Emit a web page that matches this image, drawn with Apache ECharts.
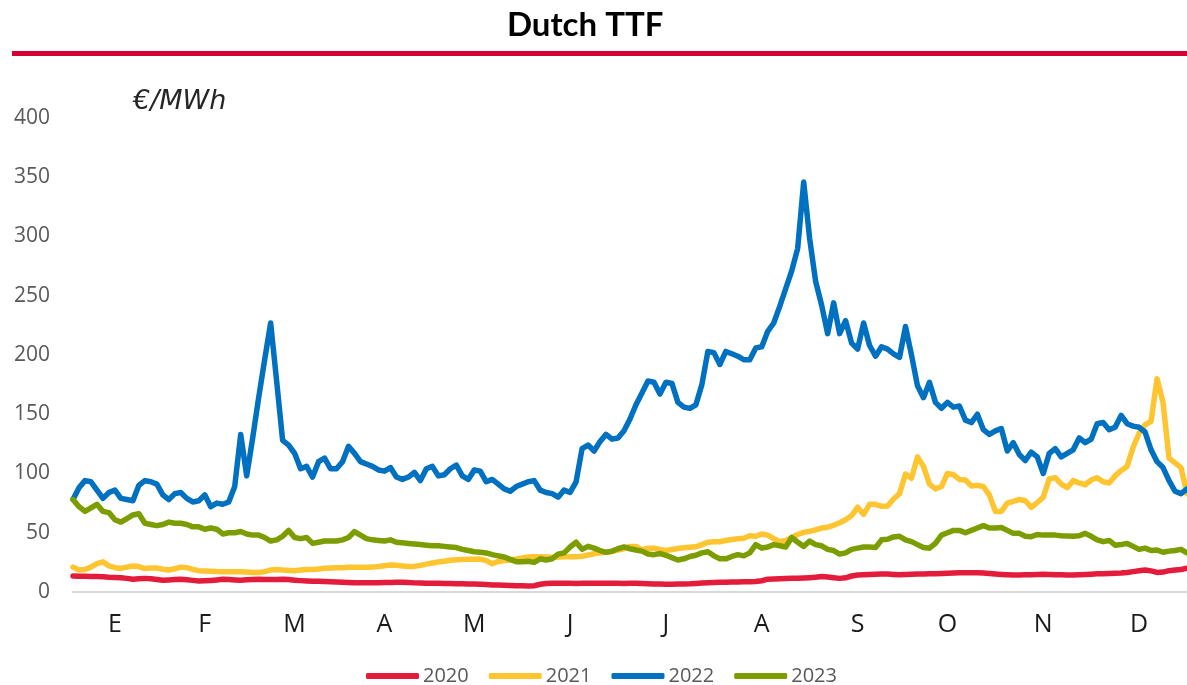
<!DOCTYPE html>
<html>
<head>
<meta charset="utf-8">
<script src="https://cdn.jsdelivr.net/npm/echarts@6/dist/echarts.min.js"></script>
<style>
  html, body { margin: 0; padding: 0; background: #fff; }
  #chart { width: 1187px; height: 685px; }
</style>
</head>
<body>
<div id="chart"></div>
<script>
// Month initials (Spanish) and how many price points fall in each month
const monthLetters = ['E', 'F', 'M', 'A', 'M', 'J', 'J', 'A', 'S', 'O', 'N', 'D'];
const pointsPerMonth = [15, 15, 15, 15, 15, 17, 15, 16, 16, 15, 16, 17];

const seriesNames = ['2020', '2021', '2022', '2023'];

// Dutch TTF front-month price, €/MWh
const ttf2020 = [
  13.5, 13.2, 13.2, 13, 13, 12.8, 12.4, 12.3, 12, 11.5, 10.8,
  11.2, 11.5, 11.2, 10.6, 10, 10.2, 10.5, 10.7, 10.3, 9.8,
  9.3, 9.5, 9.8, 10.2, 10.7, 10.5, 10.2, 10, 10.3, 10.6,
  10.7, 10.6, 10.5, 10.6, 10.7, 10.5, 10, 9.6, 9.3, 9.1,
  9, 8.8, 8.7, 8.5, 8.2, 8, 7.8, 7.8, 7.9, 7.8,
  7.9, 8, 8.1, 8.2, 8.2, 8, 7.7, 7.6, 7.4, 7.3,
  7.3, 7.2, 7.1, 7, 6.9, 6.8, 6.8, 6.6, 6.3, 6,
  5.9, 5.7, 5.5, 5.3, 5.2, 5, 5.3, 6.5, 7.2, 7.3,
  7.3, 7.3, 7.3, 7.2, 7.3, 7.3, 7.3, 7.3, 7.3, 7.3,
  7.3, 7.2, 7.3, 7.4, 7.2, 7, 6.8, 6.7, 6.5, 6.6,
  6.8, 6.8, 6.9, 7.2, 7.5, 7.8, 8, 8.2, 8.3, 8.4,
  8.5, 8.6, 8.7, 8.8, 9.5, 10.8, 11, 11.2, 11.3, 11.5,
  11.6, 11.8, 12.1, 12.5, 13, 12.6, 12, 11.5, 12, 13.5,
  14.3, 14.5, 14.8, 15, 15.2, 15.2, 14.8, 14.5, 14.8, 15,
  15.2, 15.2, 15.3, 15.5, 15.6, 15.8, 16, 16.2, 16.3, 16.3,
  16.2, 16, 15.6, 15.2, 14.8, 14.5, 14.3, 14.3, 14.5, 14.6,
  14.8, 15, 14.8, 14.6, 14.5, 14.3, 14.3, 14.5, 14.8, 15,
  15.3, 15.5, 15.6, 15.8, 16, 16.5, 17.2, 18, 18.6, 17.8,
  16.5, 16.8, 18, 18.6, 19, 20
];

const ttf2021 = [
  21, 18.5, 19, 21, 24, 25.5, 22, 20.5, 20, 21,
  22, 21.5, 19.8, 20.2, 20.2, 19.2, 18.6, 19.6, 21, 20.5,
  19, 18, 17.8, 17.5, 17.2, 17.1, 17.1, 17.1, 17.1, 16.8,
  16.5, 16.5, 17.2, 18.5, 19, 18.5, 18.2, 18, 18.5, 19,
  19, 19.5, 20, 20.2, 20.4, 20.5, 20.8, 20.8, 20.8, 20.8,
  21, 21.5, 22.2, 22.8, 22.5, 22, 21.6, 21.6, 22.5, 23.5,
  24.5, 25.4, 26, 26.8, 27.2, 27.5, 27.6, 27.7, 27.8, 26.5,
  23.8, 25.8, 26.6, 27, 27.8, 28.8, 29.5, 29.7, 29.8, 29.5,
  29.3, 29.5, 29.8, 29.8, 29.8, 30.2, 31.2, 32.3, 33, 33.5,
  34, 35.5, 36.5, 38.5, 38.5, 35.5, 37, 37, 36, 35,
  35.8, 36.7, 37.3, 37.7, 38.2, 40, 42, 42.4, 42.4, 43.4,
  44.3, 45, 45.4, 47.5, 47, 49, 48, 45, 42.4, 43.5,
  46, 48.5, 50.3, 51.2, 52.5, 54, 54.7, 56.3, 58.5, 61,
  64.5, 71.5, 65.5, 74, 74, 72.3, 72.5, 78.5, 83, 99.6,
  96, 114, 106, 91, 87, 89, 100, 99, 95, 94.5,
  89.5, 90, 89, 82, 68, 68, 75, 76.5, 78, 77,
  71.5, 75.5, 80, 95.5, 96.5, 91, 88, 94, 92, 90.5,
  94.5, 96.5, 93, 92, 98, 102.5, 106, 122, 134, 141,
  144, 180, 160, 113, 109, 105, 83
];

const ttf2022 = [
  78, 88, 94, 93, 86, 79, 84, 86, 79, 78,
  77, 90, 94, 93, 91, 82, 78, 83, 84, 79,
  76, 77, 82, 72, 75, 74, 76, 89, 133, 98,
  130, 164, 196, 227, 178, 128, 124, 117, 104, 106,
  97, 110, 113, 104, 104, 110, 123, 117, 110, 108,
  106, 103, 102, 105, 97, 95, 97, 101, 94, 104,
  106, 98, 99, 104, 107, 98, 95, 103, 102, 93,
  95, 91, 87, 85, 89, 91, 93, 94, 86, 84,
  83, 80, 86, 84, 93, 121, 124, 119, 127, 133,
  129, 130, 136, 146, 158, 168, 178, 177, 167, 177,
  176, 160, 156, 155, 158, 175, 203, 202, 192, 203,
  201, 199, 196, 196, 206, 207, 220, 227, 241, 256,
  271, 290, 346, 298, 262, 242, 218, 244, 218, 229,
  210, 205, 227, 208, 199, 207, 205, 201, 198, 224,
  200, 174, 164, 177, 160, 155, 160, 156, 157, 145,
  143, 150, 137, 133, 136, 138, 119, 126, 116, 111,
  118, 114, 100, 117, 121, 114, 117, 120, 130, 126,
  129, 142, 143, 137, 139, 149, 142, 140, 139, 135,
  120, 110, 105, 94, 85, 83, 87
];

const ttf2023 = [
  78, 72, 68, 71, 74, 68, 67, 61, 59, 62,
  65, 66, 58, 57, 56, 57, 59, 58, 58, 57,
  55, 55, 53, 54, 53, 49, 50, 50, 51, 49,
  48, 48, 46, 43, 44, 47, 52, 46, 45, 46,
  41, 42, 43, 43, 43, 44, 46, 51, 48, 45,
  44, 43.5, 43, 44, 42, 41.5, 41, 40.5, 40, 39.5,
  39, 39, 38.5, 38, 37.5, 36, 35, 34, 33.5, 33,
  31.5, 30.5, 29.5, 27.5, 25.6, 25.6, 26, 25, 28, 27,
  28, 32, 33, 38, 42, 36, 38.5, 37, 35, 33.5,
  34.5, 36.5, 38, 36.5, 35.5, 34.5, 32, 31.5, 32.5, 31,
  29, 27, 28, 30, 31, 33, 34, 30.5, 28, 28,
  30, 31.5, 30.5, 33, 40, 37, 38, 40, 39, 38,
  46, 42, 38.5, 43, 40, 39, 36, 35, 32, 33,
  36, 37, 38, 38, 37.5, 44, 44.5, 46.5, 47, 44,
  42.5, 40, 37.5, 37, 41, 48, 50, 52, 52, 50,
  52, 54, 56, 54, 54, 54.5, 52, 49.5, 49.5, 47,
  46.7, 48.5, 48, 48, 48, 47.5, 47.3, 47, 47.5, 49.5,
  47, 44, 42.5, 43.5, 39.5, 40, 41, 38.5, 36, 37,
  35, 35.5, 33.5, 34.5, 35, 36, 33
];

const yTicks = { min: 0, max: 400, step: 50 };

const palette = {
  '2020': '#e41c3c',
  '2021': '#ffc530',
  '2022': '#0070c0',
  '2023': '#7c9d00'
};

// One category per price point; remember which month each point belongs to
const pointMonth = [];
const monthMid = new Set();
let start = 0;
pointsPerMonth.forEach((count, m) => {
  for (let k = 0; k < count; k++) pointMonth.push(m);
  monthMid.add(start + Math.floor(count / 2));
  start += count;
});
const categories = pointMonth.map((m, i) => String(i));

const seriesData = [ttf2020, ttf2021, ttf2022, ttf2023];

const chart = echarts.init(document.getElementById('chart'), null, { renderer: 'canvas' });

chart.setOption({
  backgroundColor: '#ffffff',
  animation: false,
  title: {
    text: 'Dutch TTF',
    left: 502,
    top: 4,
    textStyle: { fontFamily: 'Lato', fontWeight: 'bold', fontSize: 33, color: '#000000' }
  },
  graphic: [
    {
      type: 'rect',
      left: 12, top: 51,
      shape: { width: 1175, height: 5 },
      style: { fill: '#d50032' }
    },
    {
      type: 'text',
      left: 133, top: 88,
      style: {
        text: '€/MWh',
        fontFamily: 'DejaVu Sans',
        fontStyle: 'italic',
        fontSize: 27,
        fill: '#262626'
      }
    }
  ],
  legend: {
    top: 661,
    left: 361,
    icon: 'roundRect',
    itemWidth: 53,
    itemHeight: 6,
    itemGap: 20,
    textStyle: { fontFamily: 'Open Sans', fontSize: 20, color: '#595959', padding: [0, 0, 0, -1] },
    data: seriesNames
  },
  grid: { left: 73, right: 0, top: 118, bottom: 93 },
  xAxis: {
    type: 'category',
    boundaryGap: false,
    data: categories,
    axisLine: { lineStyle: { color: '#d9d9d9', width: 2 } },
    axisTick: { show: false },
    splitLine: { show: false },
    axisLabel: {
      interval: (idx) => monthMid.has(idx),
      formatter: (val, idx) => monthLetters[pointMonth[idx]],
      margin: 20,
      fontFamily: 'Open Sans',
      fontSize: 25,
      color: '#1a1a1a'
    }
  },
  yAxis: {
    type: 'value',
    min: yTicks.min,
    max: yTicks.max,
    interval: yTicks.step,
    axisLine: { show: false },
    axisTick: { show: false },
    splitLine: { show: false },
    axisLabel: {
      margin: 23,
      fontFamily: 'Open Sans',
      fontSize: 21,
      color: '#595959'
    }
  },
  series: seriesNames.map((name, k) => ({
    name,
    type: 'line',
    data: seriesData[k],
    showSymbol: false,
    symbol: 'none',
    smooth: false,
    color: palette[name],
    lineStyle: { width: 5.5, color: palette[name], cap: 'round', join: 'round' },
    emphasis: { disabled: true }
  }))
});
</script>
</body>
</html>
